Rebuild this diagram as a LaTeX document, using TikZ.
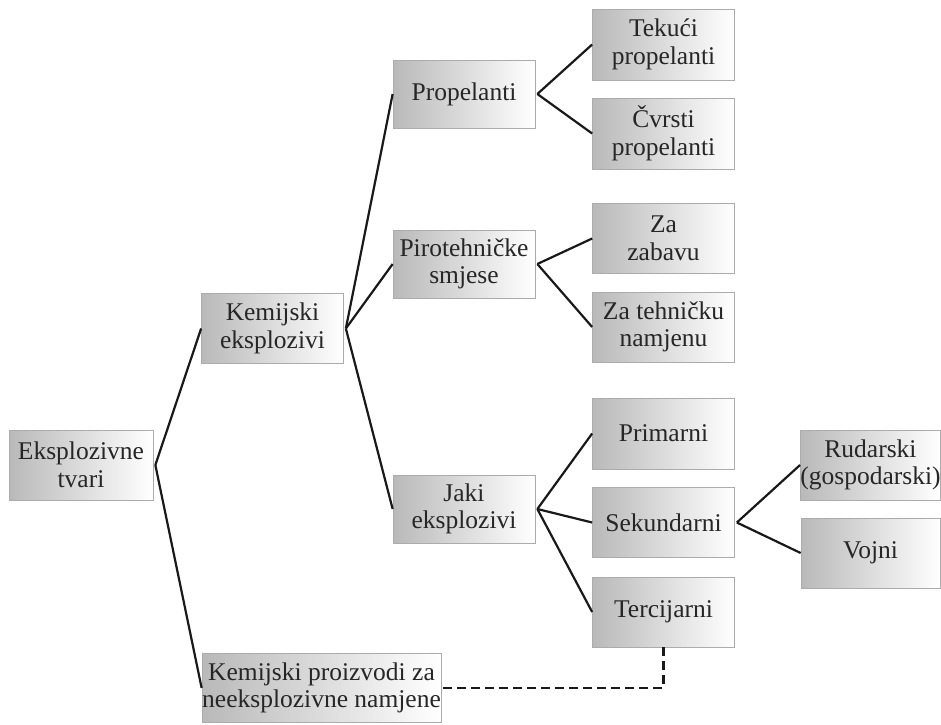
\documentclass[tikz,border=0pt]{standalone}
\usepackage{fontspec}
\setmainfont{Liberation Serif}
\begin{document}
\begin{tikzpicture}[x=1pt,y=-1pt,
  box/.style={draw=gray!65,line width=0.7pt,left color=gray!55,right color=white,
    minimum width=142pt,minimum height=70pt,inner sep=0pt,align=center,
    font=\fontsize{25.5}{27.5}\selectfont,text=black!85},
  link/.style={line width=2.2pt,black!90},
  dlink/.style={line width=2.2pt,black!90,dash pattern=on 9pt off 5pt}]
\useasboundingbox (0,0) rectangle (941,724);
\node[box,minimum width=144pt] (et) at (81,465) {Eksplozivne\\tvari};
\node[box] (ke) at (272.5,328.5) {Kemijski\\eksplozivi};
\node[box,minimum width=239pt,minimum height=69pt] (kp) at (321.5,688) {Kemijski proizvodi za\\neeksplozivne namjene};
\node[box,minimum height=68pt] (pr) at (464,94) {Propelanti};
\node[box,minimum height=68pt] (ps) at (464,264) {Pirotehničke\\smjese};
\node[box,minimum height=68pt] (je) at (464,509) {Jaki\\eksplozivi};
\node[box,minimum height=71pt] (tp) at (663.5,44.5) {Tekući\\propelanti};
\node[box,minimum height=71pt] (cp) at (663.5,133.5) {Čvrsti\\propelanti};
\node[box] (zz) at (663.5,238.5) {Za\\zabavu};
\node[box] (zt) at (663.5,327) {Za tehničku\\namjenu};
\node[box,minimum height=71pt] (pri) at (663.5,433.5) {Primarni};
\node[box] (sek) at (663.5,522.5) {Sekundarni};
\node[box] (ter) at (663.5,612) {Tercijarni};
\node[box,minimum width=139pt] (rud) at (870.5,465) {Rudarski\\(gospodarski)};
\node[box,minimum width=139pt] (voj) at (870.5,553) {Vojni};
\foreach \p/\c in {et/ke,et/kp,ke/pr,ke/ps,ke/je,pr/tp,pr/cp,ps/zz,ps/zt,je/pri,je/sek,je/ter,sek/rud,sek/voj}
  \draw[link] ([xshift=2pt]\p.east) -- (\c.west);
\draw[dlink] (ter.south) |- ([xshift=1pt]kp.east);
\end{tikzpicture}
\end{document}
